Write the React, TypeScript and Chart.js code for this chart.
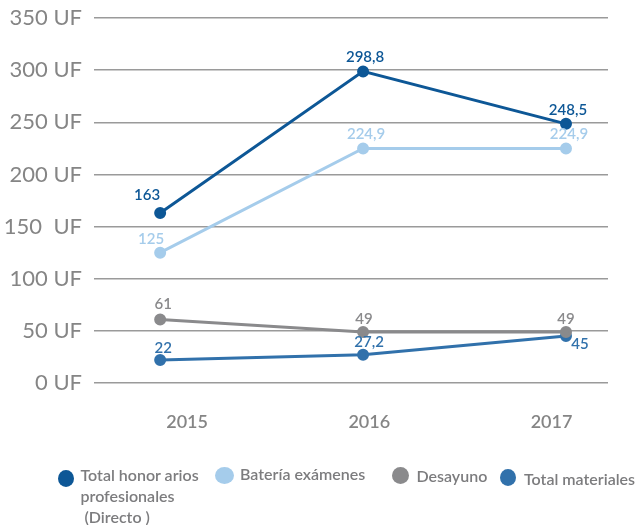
import React, { useEffect, useRef } from "react";
import { Chart, registerables } from "chart.js";

Chart.register(...registerables);

const years = [2015, 2016, 2017];
const honorarios = [163, 298.8, 248.5];
const bateria = [125, 224.9, 224.9];
const desayuno = [61, 49, 49];
const materiales = [22, 27.2, 45];
const yTickLabels: Record<number, string> = {
  0: "0 UF",
  50: "50 UF",
  100: "100 UF",
  150: "150  UF",
  200: "200 UF",
  250: "250 UF",
  300: "300 UF",
  350: "350 UF",
};
const seriesNames = ["Total honorarios profesionales (Directo)", "Batería exámenes", "Desayuno", "Total materiales"];

const C_DARK = "#0d5796";
const C_LIGHT = "#a5cceb";
const C_GRAY = "#8a8a8c";
const C_MID = "#3171ab";
const FONT = "Lato, 'Open Sans', sans-serif";

// label offsets (style only), per dataset per point: [dx, dy]
const labelOffsets: number[][][] = [
  [[-13, -18], [2, -14], [2, -14]],
  [[-9, -13], [3, -14], [3, -14]],
  [[3, -15], [1, -13], [0, -13]],
  [[3, -12], [6, -12], [14, 8]],
];

const fmt = (v: number) => String(v).replace(".", ",");

const labelsPlugin = {
  id: "pointLabels",
  afterDatasetsDraw(chart: any) {
    const ctx = chart.ctx;
    ctx.save();
    ctx.font = `600 15px ${FONT}`;
    ctx.textAlign = "center";
    ctx.textBaseline = "middle";
    chart.data.datasets.forEach((ds: any, di: number) => {
      const meta = chart.getDatasetMeta(di);
      meta.data.forEach((pt: any, i: number) => {
        const [dx, dy] = labelOffsets[di][i];
        ctx.fillStyle = ds.borderColor;
        ctx.fillText(fmt(ds.data[i].y), pt.x + dx, pt.y + dy);
      });
    });
    ctx.restore();
  },
};

export default function App() {
  const ref = useRef<HTMLCanvasElement>(null);
  useEffect(() => {
    if (!ref.current) return;
    const mk = (vals: number[]) => years.map((x, i) => ({ x, y: vals[i] }));
    const colors = [C_DARK, C_LIGHT, C_GRAY, C_MID];
    const all = [honorarios, bateria, desayuno, materiales];
    const chart = new Chart(ref.current, {
      type: "line",
      data: {
        datasets: all.map((vals, i) => ({
          label: seriesNames[i],
          data: mk(vals),
          borderColor: colors[i],
          backgroundColor: colors[i],
          pointBackgroundColor: colors[i],
          pointBorderColor: colors[i],
          borderWidth: 3,
          pointRadius: 4.5,
          tension: 0,
          xAxisID: "x",
          yAxisID: "y",
        })),
      },
      options: {
        animation: false,
        responsive: false,
        layout: { padding: { top: 18, right: 31, left: 0, bottom: 0 } },
        plugins: { legend: { display: false }, tooltip: { enabled: false } },
        scales: {
          x: {
            type: "linear",
            display: false,
            min: 2014.674,
            max: 2017.207,
          },
          xl: {
            type: "linear",
            position: "bottom",
            min: 2014.489,
            max: 2017.31,
            grid: { display: false, drawTicks: false },
            border: { display: false },
            afterBuildTicks: (s: any) => {
              s.ticks = years.map((v) => ({ value: v }));
            },
            afterFit: (s: any) => {
              s.height = 525 - 383;
              s.paddingLeft = 0;
              s.paddingRight = 0;
            },
            ticks: {
              autoSkip: false,
              maxRotation: 0,
              padding: 28,
              color: "#858585",
              font: { family: FONT, size: 18, weight: "600" as any },
              callback: (v: any) => String(v),
            },
          },
          y: {
            min: 0,
            max: 350,
            afterBuildTicks: (s: any) => {
              s.ticks = Object.keys(yTickLabels).map((k) => ({ value: Number(k) }));
            },
            afterFit: (s: any) => {
              s.width = 94;
              s.paddingTop = 0;
              s.paddingBottom = 0;
            },
            grid: { color: "#9a9a9a", lineWidth: 1.5, drawTicks: false },
            border: { display: false },
            ticks: {
              padding: 12,
              color: "#858585",
              font: { family: FONT, size: 22 },
              callback: (v: any) => yTickLabels[v as number] ?? "",
            },
          },
        },
      } as any,
      plugins: [labelsPlugin],
    });
    return () => chart.destroy();
  }, []);

  const legendText = (left: number, centerY: number): React.CSSProperties => ({
    position: "absolute",
    left,
    top: centerY - 12,
    fontFamily: FONT,
    fontSize: 16,
    fontWeight: 600,
    color: "#7c7c7e",
    lineHeight: "21px",
    whiteSpace: "nowrap",
  });
  const dot = (cx: number, cy: number, c: string, w = 16, h = 17): React.CSSProperties => ({
    position: "absolute",
    left: cx - w / 2,
    top: cy - h / 2,
    width: w,
    height: h,
    borderRadius: "50%",
    background: c,
  });

  return (
    <div style={{ position: "fixed", left: 0, top: 0, width: 639, height: 525, background: "#fff" }}>
      <canvas ref={ref} width={639} height={525} style={{ display: "block" }} />
      <div style={dot(65.5, 478, C_DARK)} />
      <div style={legendText(80.5, 476)}>
        Total honor arios
        <br />
        profesionales
        <br />
        &nbsp;(Directo )
      </div>
      <div style={dot(224, 475, C_LIGHT, 19, 17)} />
      <div style={legendText(240, 475)}>Batería exámenes</div>
      <div style={dot(400.5, 475, C_GRAY, 17, 17)} />
      <div style={legendText(416.5, 476.5)}>Desayuno</div>
      <div style={dot(508, 477.5, C_MID, 16, 17)} />
      <div style={legendText(524, 480)}>Total materiales</div>
    </div>
  );
}
